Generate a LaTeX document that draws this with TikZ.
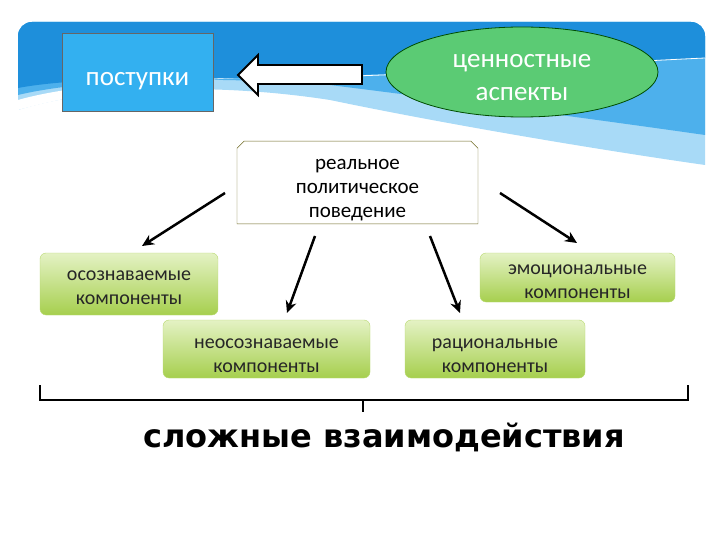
\documentclass[tikz,border=0pt]{standalone}
\usepackage{fontspec}
\setmainfont{Carlito}
\newfontfamily\boldsans{DejaVu Sans}
\usetikzlibrary{arrows.meta,shapes.geometric,shapes.misc}
\definecolor{bandblue}{HTML}{1E8FDB}
\definecolor{midband}{HTML}{4DB0EC}
\definecolor{lightband}{HTML}{A8DAF7}
\definecolor{boxblue}{HTML}{33B0F0}
\definecolor{ellgreen}{HTML}{5BCB74}
\definecolor{gtop}{HTML}{E4F2C4}
\definecolor{gbot}{HTML}{A6CF4E}
\newcommand{\dn}[1]{\rule{0pt}{#1}}
\tikzset{
  comp/.style={rounded corners=6pt, top color=gtop, bottom color=gbot, draw=gbot!80!white, align=center, font=\fontsize{20}{24}\selectfont, text=black!85, inner sep=0pt},
  conn/.style={line width=2.5pt, -{Stealth[length=12pt,width=11pt]}}
}
\begin{document}
\begin{tikzpicture}[x=1pt,y=-1pt]
\useasboundingbox (0,0) rectangle (720,540);
% banner
\begin{scope}
\clip[rounded corners=14pt] (18,22) rectangle (705,200);
\fill[lightband] (18,22) -- (705,22) -- (705,165) .. controls (600,150) and (450,125) .. (330,100) .. controls (200,80) and (80,90) .. (18,110) -- cycle;
\fill[midband] (18,22) -- (705,22) -- (705,135) .. controls (600,120) and (450,100) .. (330,85) .. controls (200,75) and (80,80) .. (18,95) -- cycle;
\fill[bandblue] (18,22) -- (705,22) -- (705,58) .. controls (550,65) and (350,78) .. (240,78) .. controls (130,78) and (60,80) .. (18,88) -- cycle;
\draw[white, line width=0.8pt] (240,78) .. controls (400,78) and (550,65) .. (705,58);
\fill[white] (18,110) .. controls (80,92) and (180,80) .. (240,78) .. controls (130,80) and (60,88) .. (18,100) -- cycle;
\end{scope}
% top nodes
\node[draw=black!60, fill=boxblue, minimum width=151pt, minimum height=78pt, text=white, font=\fontsize{27}{32}\selectfont] (post) at (137.5,72) {\dn{31pt}поступки};
\node[ellipse, draw=green!30!black, line width=0.8pt, fill=ellgreen, minimum width=272pt, minimum height=90pt, inner sep=0pt, text=white, align=center, font=\fontsize{27}{33}\selectfont] (cen) at (522,72) {\dn{25pt}ценностные\\аспекты};
\draw[line width=1.8pt, fill=white, line join=miter] (362,65) -- (258,65) -- (258,55) -- (238,75) -- (258,95) -- (258,84) -- (362,84) -- cycle;
% center
\node[chamfered rectangle, chamfered rectangle corners={north west,north east}, chamfered rectangle xsep=4pt, draw=olive!70!black, fill=white, minimum width=241pt, minimum height=71pt, inner sep=0pt, align=center, font=\fontsize{21}{24}\selectfont] (real) at (357.5,182.5) {\dn{25pt}реальное\\политическое\\поведение};
% components
\node[comp, minimum width=178pt, minimum height=62pt] (osoz) at (129,284) {\dn{18pt}осознаваемые\\компоненты};
\node[comp, minimum width=195pt, minimum height=49pt] (emo) at (577.5,277.5) {\dn{18pt}эмоциональные\\компоненты};
\node[comp, minimum width=207pt, minimum height=58pt] (neo) at (266.5,349) {\dn{24pt}неосознаваемые\\компоненты};
\node[comp, minimum width=180pt, minimum height=58pt] (rat) at (495,349) {\dn{24pt}рациональные\\компоненты};
% arrows
\coordinate (s1) at (225,193); \coordinate (e1) at (142,246);
\coordinate (s2) at (315,236); \coordinate (e2) at (287,313);
\coordinate (s3) at (430,236); \coordinate (e3) at (460,313);
\coordinate (s4) at (500,193); \coordinate (e4) at (577,243);
\draw[conn] (s1) -- (e1);
\draw[conn] (s2) -- (e2);
\draw[conn] (s3) -- (e3);
\draw[conn] (s4) -- (e4);
% brace
\draw[line width=2.2pt] (40,385) -- (40,400) -- (688,400) -- (688,385);
\draw[line width=2.2pt] (363,400) -- (363,412);
\node[font=\boldsans\bfseries\fontsize{32}{36}\selectfont] (sum) at (384,437) {сложные взаимодействия};
\end{tikzpicture}
\end{document}
